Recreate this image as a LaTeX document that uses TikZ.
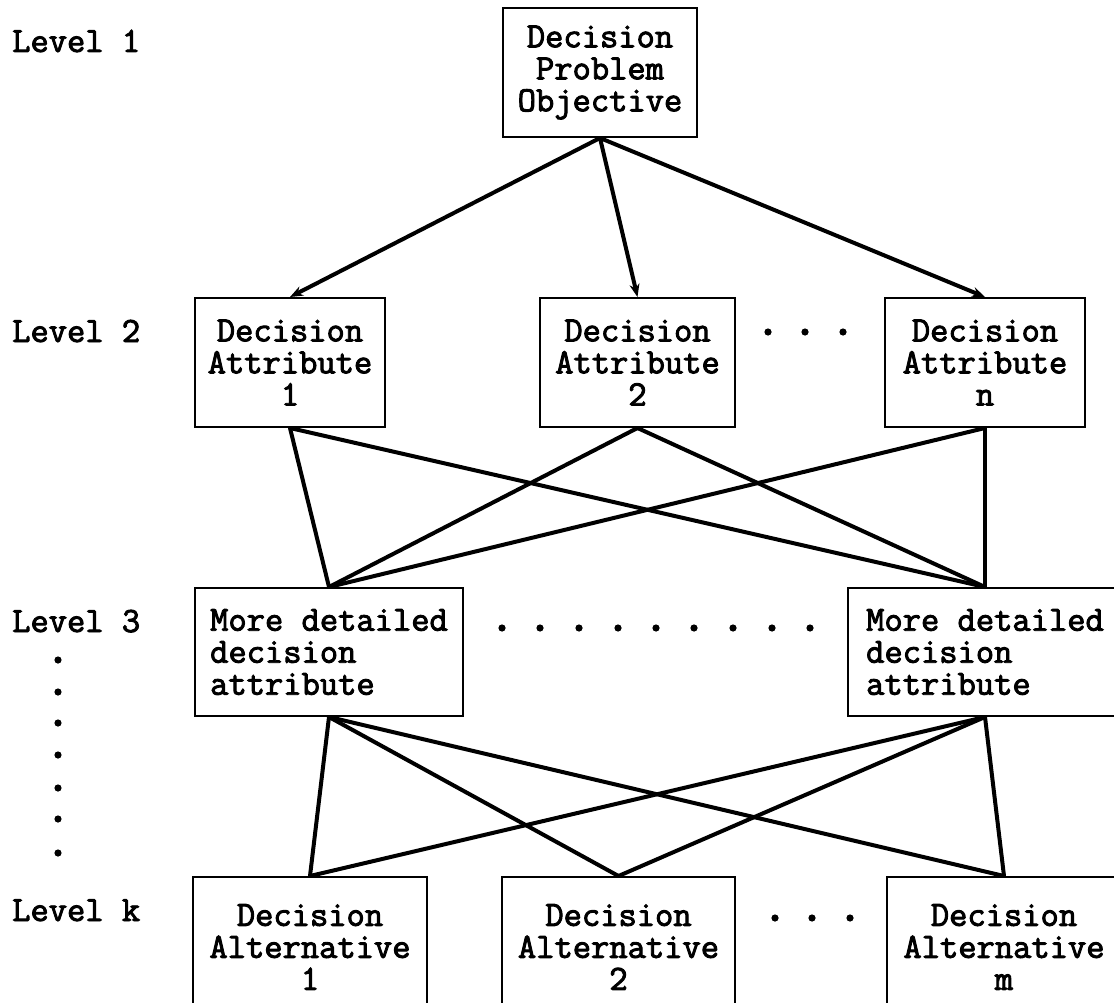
\documentclass[tikz,border=0pt]{standalone}
\usepackage{fontspec}
\newfontfamily\courfont{Latin Modern Mono}[FakeBold=2.6]
\usetikzlibrary{arrows.meta}
\begin{document}
\begin{tikzpicture}[x=1pt,y=-1pt,
  txt/.style={font=\courfont\fontsize{35.5}{32}\selectfont},
  box/.style={txt, draw, line width=2pt, fill=white, inner sep=0pt, align=center},
  lbox/.style={box, align=left},
  link/.style={line width=4pt, line cap=round},
  arrowlink/.style={link, line cap=butt, -{Stealth[length=13pt,width=10pt]}},
  lvl/.style={txt, anchor=base west, inner sep=0pt},
  dot/.style={fill=black}]
\useasboundingbox (0,0) rectangle (1114,1003);
\clip (0,0) rectangle (1114,1003);

% level 1
\node[box, minimum width=194, minimum height=129] (top) at (600,72.5)
  {Decision\\Problem\\Objective};

% level 2
\node[box, minimum width=190, minimum height=129] (b1) at (290,362.5)
  {Decision\\Attribute\\1};
\node[box, minimum width=195, minimum height=129] (b2) at (637.5,362.5)
  {Decision\\Attribute\\2};
\node[box, minimum width=200, minimum height=129] (b3) at (985,362.5)
  {Decision\\Attribute\\n};

% level 3
\node[lbox, minimum width=268, minimum height=128] (c1) at (329,652)
  {More detailed\\decision\\attribute};
\node[lbox, minimum width=274, minimum height=128] (c2) at (985,652)
  {More detailed\\decision\\attribute};

% level k
\node[box, minimum width=234, minimum height=140] (d1) at (310,947)
  {Decision\\Alternative\\1};
\node[box, minimum width=233, minimum height=140] (d2) at (618.5,947)
  {Decision\\Alternative\\2};
\node[box, minimum width=234, minimum height=140] (d3) at (1004,947)
  {Decision\\Alternative\\m};

% level captions
\node[lvl] (l1) at (12,52) {Level 1};
\node[lvl] (l2) at (12,342) {Level 2};
\node[lvl] (l3) at (12,632) {Level 3};
\node[lvl] (lk) at (12,921) {Level k};

% connectors
\foreach \t in {b1,b2,b3}
  \draw[arrowlink] (top.south) -- (\t.north);
\foreach \s in {b1,b2,b3}
  \foreach \t in {c1,c2}
    \draw[link] (\s.south) -- (\t.north);
\foreach \s in {c1,c2}
  \foreach \t in {d1,d2,d3}
    \draw[link] (\s.south) -- (\t.north);

% ellipsis dots
\foreach \y in {660,692,723,755,788,819,853}
  \fill[dot] (58,\y) circle (3.6);
\foreach \x in {768,805,843}
  \fill[dot] (\x,332) circle (3.6);
\foreach \x in {502,540,579,618,656,694,733,772,810}
  \fill[dot] (\x,628) circle (3.6);
\foreach \x in {775,812,850}
  \fill[dot] (\x,918) circle (3.6);
\end{tikzpicture}
\end{document}
